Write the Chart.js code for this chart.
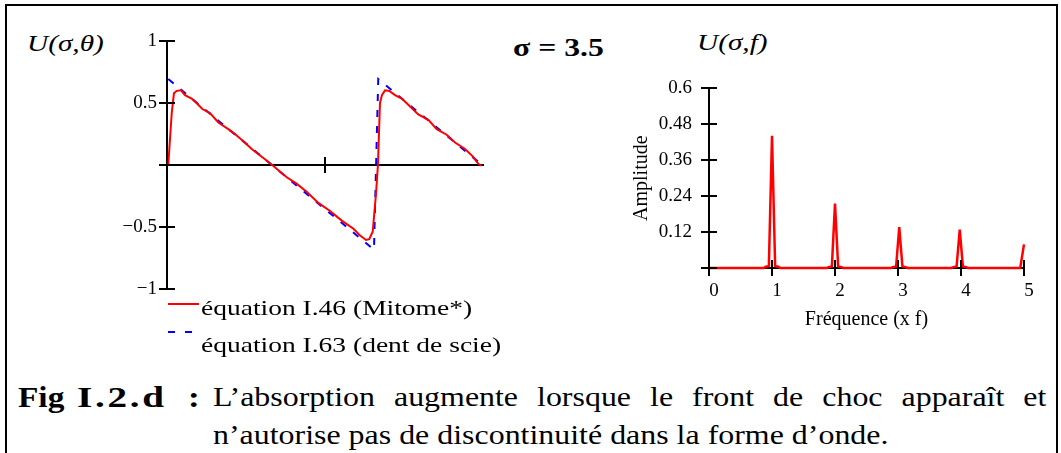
<!DOCTYPE html>
<html>
<head>
<meta charset="utf-8">
<script src="https://cdn.jsdelivr.net/npm/chart.js@4"></script>
<style>
  html, body { margin: 0; padding: 0; background: #fff; }
  body { width: 1061px; height: 453px; position: relative; overflow: hidden;
         font-family: 'Liberation Serif', 'Times New Roman', serif; color: #000; }
  .frame { position: absolute; left: 5px; top: 4px; width: 1049px; height: 470px;
           border: 2px solid #000; border-bottom: none; }
  .box { position: absolute; }
  .txt { position: absolute; white-space: nowrap; line-height: 1;
         transform-origin: 0 50%; transform: scaleX(1.22); }
  .cap { transform: scaleX(1.14); }
  .swatch { position: absolute; height: 0; }
</style>
</head>
<body>
<div class="frame"></div>

<div class="txt" style="left:27px; top:31px; font-size:24px; font-style:italic;">U(σ,θ)</div>
<div class="txt" style="left:513px; top:35px; font-size:26px; font-weight:bold;">σ = 3.5</div>
<div class="txt" style="left:697px; top:30px; font-size:24px; font-style:italic;">U(σ,f)</div>

<div class="box" id="waveBox" style="left:107px; top:20px; width:393px; height:290px;"><canvas id="waveChart"></canvas></div>
<div class="box" id="specBox" style="left:630px; top:60px; width:413px; height:272px;"><canvas id="specChart"></canvas></div>

<div class="swatch" style="left:168px; top:303px; width:31px; border-top:2px solid #ff0000;"></div>
<div class="swatch" style="left:168px; top:331px; width:7px; border-top:2px solid #0000ff;"></div>
<div class="swatch" style="left:185px; top:331px; width:7px; border-top:2px solid #0000ff;"></div>
<div class="txt" style="left:201px; top:297px; font-size:22px; transform:scaleX(1.25);">équation I.46 (Mitome*)</div>
<div class="txt" style="left:201px; top:334px; font-size:22px; transform:scaleX(1.25);">équation I.63 (dent de scie)</div>

<div class="txt" style="left:18px; top:383px; font-size:29px; font-weight:bold; transform:scaleX(1.15);">Fig</div>
<div class="txt" style="left:77px; top:383px; font-size:29px; font-weight:bold; letter-spacing:2px; transform:scaleX(1.35);">I.2.d</div>
<div class="txt" style="left:188px; top:383px; font-size:29px; font-weight:bold;">:</div>
<div class="txt cap" style="left:213px; top:383px; font-size:28px; width:731px; text-align:justify; text-align-last:justify;">L’absorption augmente lorsque le front de choc apparaît et</div>
<div class="txt cap" style="left:213px; top:421px; font-size:28px;">n’autorise pas de discontinuité dans la forme d’onde.</div>

<script>
const serif = "'Liberation Serif', 'Times New Roman', serif";
Chart.defaults.color = '#000';
Chart.defaults.font.family = serif;

// U(sigma, theta) : Mitome solution (red) and sawtooth (blue dashed)
const thetaMitome = [0.008, 0.03, 0.044, 0.061, 0.089, 0.114, 0.156, 0.188, 0.224, 0.272, 0.325, 0.388, 0.43, 0.494, 0.536, 0.61, 0.673, 0.758, 0.82, 0.884, 0.958, 1.032, 1.106, 1.18, 1.22, 1.26, 1.28, 1.302, 1.323, 1.335, 1.348, 1.36, 1.38, 1.407, 1.443, 1.486, 1.527, 1.59, 1.654, 1.707, 1.77, 1.823, 1.886, 1.935, 1.97, 1.99];
const uMitome     = [0, 0.42, 0.58, 0.60, 0.604, 0.565, 0.537, 0.50, 0.453, 0.42, 0.344, 0.29, 0.25, 0.18, 0.13, 0.057, -0.008, -0.099, -0.151, -0.216, -0.307, -0.372, -0.45, -0.516, -0.568, -0.607, -0.60, -0.54, -0.229, 0, 0.50, 0.565, 0.604, 0.599, 0.565, 0.537, 0.487, 0.409, 0.365, 0.29, 0.245, 0.182, 0.13, 0.07, 0.01, -0.005];
const thetaSaw = [0.008, 1.31, 1.337, 1.995];
const uSaw     = [0.695, -0.685, 0.695, 0];

const waveYTicks = [-1, -0.5, 0, 0.5, 1];
const waveXTicks = [1];

// U(sigma, f) : spectrum
const freq = [0, 0.87, 0.9, 0.95, 1.0, 1.05, 1.1, 1.13, 1.87, 1.9, 1.95, 2.0, 2.05, 2.1, 2.13, 2.89, 2.92, 2.97, 3.02, 3.07, 3.12, 3.15, 3.85, 3.88, 3.93, 3.98, 4.03, 4.08, 4.11, 4.94, 5.0];
const amplitude = [0, 0, 0.004, 0.006, 0.442, 0.006, 0.004, 0, 0, 0.003, 0.005, 0.215, 0.005, 0.003, 0, 0, 0.003, 0.005, 0.137, 0.005, 0.003, 0, 0, 0.003, 0.005, 0.128, 0.005, 0.003, 0, 0, 0.079];

const specYTicks = [0, 0.12, 0.24, 0.36, 0.48, 0.6];
const specYLabels = ['', '0.12', '0.24', '0.36', '0.48', '0.6'];
const specXTicks = [0, 1, 2, 3, 4, 5];
const specXLabels = ['0', '1', '2', '3', '4', '5'];

const pairs = (xs, ys) => xs.map((x, i) => ({ x, y: ys[i] }));

// Mathcad-like tick marks that cross the axis line
const crossTicks = {
  id: 'crossTicks',
  afterDatasetsDraw(chart, args, opts) {
    const { ctx, scales: { x, y } } = chart;
    const len = opts.len;
    const axisX = y.right;
    const axisY = y.getPixelForValue(opts.xAxisAt);
    ctx.save();
    ctx.strokeStyle = '#000';
    ctx.lineWidth = 2;
    ctx.beginPath();
    y.ticks.forEach(t => {
      const py = Math.round(y.getPixelForValue(t.value));
      ctx.moveTo(axisX - len, py);
      ctx.lineTo(axisX + len, py);
    });
    x.ticks.forEach(t => {
      const px = Math.round(x.getPixelForValue(t.value));
      ctx.moveTo(px, axisY - len);
      ctx.lineTo(px, axisY + len);
    });
    ctx.stroke();
    ctx.restore();
  }
};

const axisBorder = { display: true, color: '#000', width: 2 };
const noGrid = { display: true, drawOnChartArea: false, drawTicks: false };

new Chart(document.getElementById('waveChart'), {
  type: 'line',
  data: {
    datasets: [
      { label: 'équation I.46 (Mitome*)', data: pairs(thetaMitome, uMitome),
        borderColor: '#ff0000', borderWidth: 2, pointRadius: 0, tension: 0, clip: false },
      { label: 'équation I.63 (dent de scie)', data: pairs(thetaSaw, uSaw),
        borderColor: '#0000ff', borderWidth: 2, borderDash: [7, 9], pointRadius: 0, tension: 0, clip: false },
    ],
  },
  options: {
    responsive: true,
    maintainAspectRatio: false,
    animation: false,
    layout: { padding: { left: 0, right: 17, top: 17, bottom: 17 } },
    plugins: { legend: { display: false }, tooltip: { enabled: false }, crossTicks: { len: 8, xAxisAt: 0 } },
    scales: {
      x: {
        type: 'linear', min: 0, max: 2,
        position: { y: 0 },
        afterBuildTicks: s => { s.ticks = waveXTicks.map(v => ({ value: v })); },
        afterFit: s => { s.height = 0; },
        ticks: { display: false },
        grid: noGrid,
        border: axisBorder,
      },
      y: {
        type: 'linear', min: -1, max: 1,
        afterBuildTicks: s => { s.ticks = waveYTicks.map(v => ({ value: v })); },
        afterFit: s => { s.width = 60; },
        ticks: {
          padding: 10,
          font: { family: serif, size: 19 },
          callback: v => v === 0 ? '' : (v < 0 ? '\u2212' + Math.abs(v) : String(v)),
        },
        grid: noGrid,
        border: axisBorder,
      },
    },
  },
  plugins: [crossTicks],
});

new Chart(document.getElementById('specChart'), {
  type: 'line',
  data: {
    datasets: [
      { label: 'U(σ,f)', data: pairs(freq, amplitude),
        borderColor: '#ff0000', borderWidth: 2.5, pointRadius: 0, tension: 0, clip: false },
    ],
  },
  options: {
    responsive: true,
    maintainAspectRatio: false,
    animation: false,
    layout: { padding: { left: 0, right: 19, top: 18, bottom: 0 } },
    plugins: { legend: { display: false }, tooltip: { enabled: false }, crossTicks: { len: 8, xAxisAt: 0 } },
    scales: {
      x: {
        type: 'linear', min: 0, max: 5,
        afterBuildTicks: s => { s.ticks = specXTicks.map(v => ({ value: v })); },
        afterFit: s => { s.height = 64; },
        ticks: {
          padding: 12,
          labelOffset: 5,
          font: { family: serif, size: 19 },
          callback: (v, i) => specXLabels[i],
        },
        title: { display: true, text: 'Fréquence (x f)', font: { family: serif, size: 20 }, padding: 0 },
        grid: noGrid,
        border: axisBorder,
      },
      y: {
        type: 'linear', min: 0, max: 0.6,
        afterBuildTicks: s => { s.ticks = specYTicks.map(v => ({ value: v })); },
        afterFit: s => { s.width = 79; },
        ticks: {
          padding: 17,
          font: { family: serif, size: 19 },
          callback: (v, i) => specYLabels[i],
        },
        title: { display: true, text: 'Amplitude', font: { family: serif, size: 20 }, padding: 0 },
        grid: noGrid,
        border: axisBorder,
      },
    },
  },
  plugins: [crossTicks],
});
</script>
</body>
</html>
